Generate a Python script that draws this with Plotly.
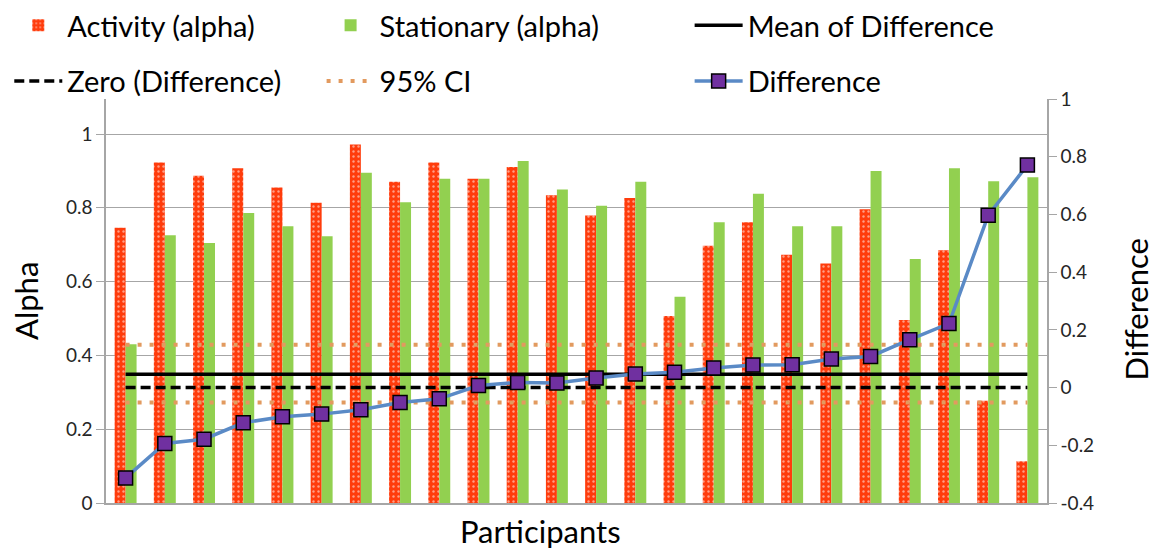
import plotly.graph_objects as go

# Per-participant alpha values and their difference (stationary - activity)
participants = list(range(1, 25))
activity_alpha = [0.746, 0.923, 0.887, 0.907, 0.855, 0.814, 0.972, 0.871,
                  0.923, 0.879, 0.911, 0.834, 0.779, 0.827, 0.507, 0.697,
                  0.761, 0.673, 0.649, 0.796, 0.496, 0.685, 0.277, 0.113]
stationary_alpha = [0.430, 0.726, 0.705, 0.786, 0.750, 0.723, 0.895, 0.815,
                    0.879, 0.879, 0.927, 0.850, 0.806, 0.871, 0.559, 0.761,
                    0.838, 0.750, 0.750, 0.900, 0.661, 0.907, 0.872, 0.883]
difference = [-0.313, -0.194, -0.179, -0.122, -0.101, -0.092, -0.077, -0.052,
              -0.039, 0.007, 0.018, 0.016, 0.033, 0.047, 0.053, 0.068,
              0.078, 0.079, 0.099, 0.108, 0.166, 0.222, 0.597, 0.771]

# Summary levels on the difference axis
mean_difference = 0.046
zero_level = 0.0
ci_upper = 0.148
ci_lower = -0.052

# Axis ticks
alpha_ticks = [0, 0.2, 0.4, 0.6, 0.8, 1.0]
alpha_tick_labels = ["0", "0.2", "0.4", "0.6", "0.8", "1"]
diff_ticks = [-0.4, -0.2, 0, 0.2, 0.4, 0.6, 0.8, 1.0]
diff_tick_labels = ["-0.4", "-0.2", "0", "0.2", "0.4", "0.6", "0.8", "1"]

FONT = "Lato"
RED = "#FF3C0C"
GREEN = "#92D050"
BLUE = "#5A8AC6"
PURPLE = "#7030A0"
CI_COLOR = "#E29A5F"
GRID = "#A6A6A6"

fig = go.Figure()

fig.add_trace(go.Bar(
    x=participants, y=activity_alpha, name="Activity (alpha)",
    marker=dict(color=RED, line=dict(width=0),
                pattern=dict(shape=".", fgcolor="white", fillmode="overlay",
                             size=5, solidity=0.18)),
    legend="legend", legendgroup="a", yaxis="y",
))
fig.add_trace(go.Bar(
    x=participants, y=stationary_alpha, name="Stationary (alpha)",
    marker=dict(color=GREEN, line=dict(width=0)),
    legend="legend2", legendgroup="s", yaxis="y",
))

n = len(participants)
fig.add_trace(go.Scatter(
    x=participants, y=[mean_difference] * n, name="Mean of Difference",
    mode="lines", line=dict(color="black", width=3.5),
    legend="legend3", legendgroup="m", yaxis="y2",
))
fig.add_trace(go.Scatter(
    x=participants, y=[zero_level] * n, name="Zero (Difference)",
    mode="lines", line=dict(color="black", width=3.5, dash="10px,5px"),
    legend="legend", legendgroup="z", yaxis="y2",
))
fig.add_trace(go.Scatter(
    x=participants, y=[ci_upper] * n, name="95% CI",
    mode="lines", line=dict(color=CI_COLOR, width=4, dash="4px,8px"),
    legend="legend2", legendgroup="ci", yaxis="y2",
))
fig.add_trace(go.Scatter(
    x=participants, y=[ci_lower] * n, name="95% CI", showlegend=False,
    mode="lines", line=dict(color=CI_COLOR, width=4, dash="4px,8px"),
    legendgroup="ci", yaxis="y2",
))
fig.add_trace(go.Scatter(
    x=participants, y=difference, name="Difference",
    mode="lines+markers", line=dict(color=BLUE, width=3.5),
    marker=dict(symbol="square", size=14, color=PURPLE,
                line=dict(color="black", width=1.5)),
    legend="legend3", legendgroup="d", yaxis="y2",
))

legend_common = dict(
    orientation="v", xref="container", yref="container",
    xanchor="left", yanchor="top", bgcolor="rgba(0,0,0,0)",
    font=dict(family=FONT, size=29, color="black"),
    itemwidth=48, tracegroupgap=15, traceorder="grouped",
)

fig.update_layout(
    width=1161, height=552,
    margin=dict(l=106, r=114, t=99, b=49, autoexpand=False),
    paper_bgcolor="white", plot_bgcolor="white",
    barmode="group", bargap=0.44, bargroupgap=0,
    font=dict(family=FONT, color="#262626"),
    legend=dict(legend_common, x=0.008, y=1.007),
    legend2=dict(legend_common, x=0.277, y=1.007),
    legend3=dict(legend_common, x=0.594, y=1.007),
    xaxis=dict(range=[0.5, n + 0.5], showticklabels=False, ticks="",
               showgrid=False, zeroline=False, showline=True,
               linecolor=GRID, linewidth=1.5),
    yaxis=dict(range=[0, 1.095], tickvals=alpha_ticks, ticktext=alpha_tick_labels,
               showgrid=True, gridcolor=GRID, gridwidth=1.2, zeroline=False,
               showline=True, linecolor=GRID, linewidth=1.5,
               ticks="outside", ticklen=8, tickcolor=GRID,
               tickfont=dict(family=FONT, size=19, color="#262626")),
    yaxis2=dict(range=[-0.4, 1.0], tickvals=diff_ticks, ticktext=diff_tick_labels,
                overlaying="y", side="right", showgrid=False, zeroline=False,
                showline=True, linecolor=GRID, linewidth=1.5,
                ticks="outside", ticklen=8, tickcolor=GRID,
                tickfont=dict(family=FONT, size=19, color="#262626")),
    annotations=[
        dict(text="Alpha", xref="paper", yref="paper", x=-0.085, y=0.5,
             textangle=-90, showarrow=False, xanchor="center", yanchor="middle",
             font=dict(family=FONT, size=31, color="black")),
        dict(text="Difference", xref="paper", yref="paper", x=1.095, y=0.48,
             textangle=-90, showarrow=False, xanchor="center", yanchor="middle",
             font=dict(family=FONT, size=31, color="black")),
        dict(text="Participants", xref="paper", yref="paper", x=0.462, y=-0.07,
             showarrow=False, xanchor="center", yanchor="middle",
             font=dict(family=FONT, size=31, color="black")),
    ],
)

fig.write_html("out.html")
